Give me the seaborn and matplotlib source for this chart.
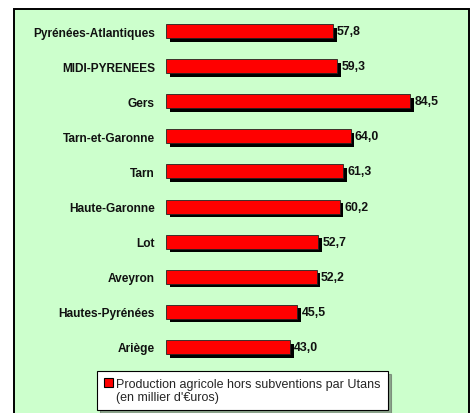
import matplotlib
matplotlib.use("Agg")
import matplotlib.pyplot as plt
import seaborn as sns
import pandas as pd
from matplotlib.patches import Rectangle, Patch
import matplotlib.patheffects as pe

categories = ["Pyrénées-Atlantiques", "MIDI-PYRENEES", "Gers", "Tarn-et-Garonne", "Tarn",
              "Haute-Garonne", "Lot", "Aveyron", "Hautes-Pyrénées", "Ariège"]
values = [57.8, 59.3, 84.5, 64.0, 61.3, 60.2, 52.7, 52.2, 45.5, 43.0]
legend_lines = ["Production agricole hors subventions par Utans", "(en millier d'€uros)"]

sns.set_theme(style="white")
plt.rcParams["font.family"] = ["Liberation Sans", "DejaVu Sans"]

W, H = 473, 414
fig = plt.figure(figsize=(W / 100, H / 100), dpi=100)
fig.patch.set_facecolor("white")

def fx(px):
    return px / W

def fy(py):
    return 1 - py / H

# green chart area frame
frame = Rectangle((fx(14), fy(430)), fx(469) - fx(14), fy(10) - fy(430),
                  transform=fig.transFigure, facecolor="#CCFFCC", edgecolor="black",
                  linewidth=1.4, zorder=-5)
fig.patches.append(frame)

ax_left, ax_right = 166, 166 + 100 * 2.888
ax_top, ax_bot = 14.5, 365.5
ax = fig.add_axes([fx(ax_left), fy(ax_bot), fx(ax_right) - fx(ax_left), fy(ax_top) - fy(ax_bot)])
ax.patch.set_alpha(0)
ax.set_zorder(2)

df = pd.DataFrame({"region": categories, "value": values})
sns.barplot(data=df, x="value", y="region", orient="h", color="#FF0000", saturation=1,
            width=0.4, edgecolor="#222222", linewidth=0.6, ax=ax)

for bar in ax.patches:
    bar.set_path_effects([pe.SimplePatchShadow(offset=(2.6, -2.6), shadow_rgbFace="black", alpha=1.0),
                          pe.Normal()])

ax.set_xlim(0, 100)
ax.set_ylim(9.5, -0.5)
ax.set_xlabel("")
ax.set_ylabel("")
ax.set_xticks([])
for s in ax.spines.values():
    s.set_visible(False)
ax.tick_params(axis="y", length=0, pad=8)
for lab in ax.get_yticklabels():
    lab.set_fontweight("bold")
    lab.set_fontsize(8.6)
    lab.set_color("#111111")

ax.bar_label(ax.containers[0], labels=[f"{v:.1f}".replace(".", ",") for v in values],
             padding=3, fontsize=8.8, fontweight="bold", color="#111111")

handles = [Patch(facecolor="#FF0000", edgecolor="black", linewidth=0.8),
           Patch(facecolor="none", edgecolor="none")]
leg = fig.legend(handles, legend_lines, loc="upper left",
                 bbox_to_anchor=(fx(97), fy(372)), bbox_transform=fig.transFigure,
                 fontsize=9, frameon=True, fancybox=False, shadow=True,
                 handlelength=0.7, handleheight=0.7, handletextpad=0.3,
                 labelspacing=0.1, borderpad=0.55, borderaxespad=0)
leg.get_frame().set_edgecolor("black")
leg.get_frame().set_linewidth(0.8)
leg.get_frame().set_facecolor("white")
leg.set_zorder(3)

fig.savefig("out.png", dpi=100)
